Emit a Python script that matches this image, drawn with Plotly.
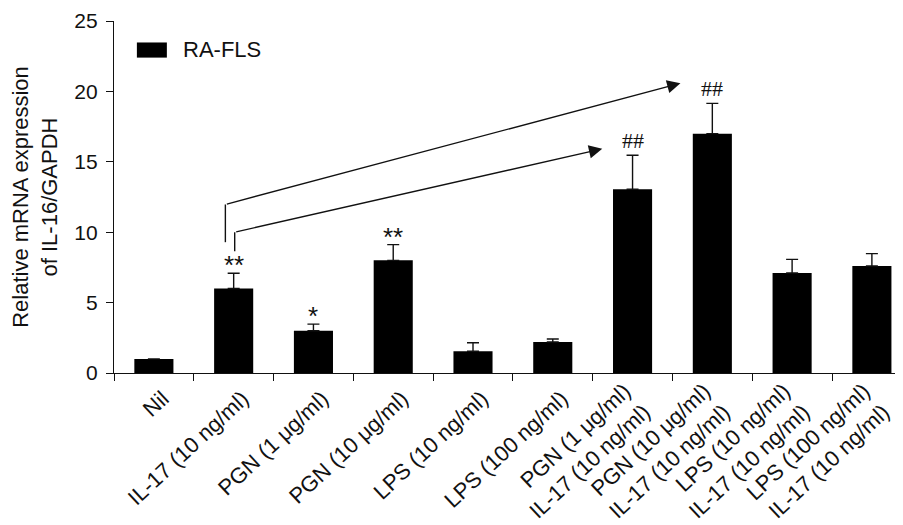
import plotly.graph_objects as go

# ---- data ----
categories = [
    "Nil",
    "IL-17 (10 ng/ml)",
    "PGN (1 μg/ml)",
    "PGN (10 μg/ml)",
    "LPS (10 ng/ml)",
    "LPS (100 ng/ml)",
    "PGN (1 μg/ml)<br>IL-17 (10 ng/ml)",
    "PGN (10 μg/ml)<br>IL-17 (10 ng/ml)",
    "LPS (10 ng/ml)<br>IL-17 (10 ng/ml)",
    "LPS (100 ng/ml)<br>IL-17 (10 ng/ml)",
]
means = [1.0, 6.0, 3.0, 8.0, 1.55, 2.2, 13.05, 17.0, 7.1, 7.6]
errors = [0.0, 1.08, 0.47, 1.12, 0.6, 0.22, 2.42, 2.15, 0.97, 0.88]
significance = ["", "**", "*", "**", "", "", "##", "##", "", ""]
series_name = "RA-FLS"
y_ticks = [0, 5, 10, 15, 20, 25]

FONT = "Liberation Sans, Arial, sans-serif"
SERIF = "Liberation Serif, Times New Roman, serif"
INK = "#111111"
X_RANGE = [-0.5, 9.39]

fig = go.Figure()
fig.add_trace(go.Bar(
    x=categories,
    y=means,
    name=series_name,
    width=0.49,
    marker=dict(color="#000000", line=dict(width=0)),
    error_y=dict(type="data", array=errors, arrayminus=[0] * len(errors),
                 symmetric=False, color=INK, thickness=1.4, width=6),
    showlegend=False,
))

annotations = []
# significance marks above the error bars
mark_style = {
    "*": dict(font=FONT, size=26, shift=-9),
    "**": dict(font=FONT, size=26, shift=-9),
    "##": dict(font=SERIF, size=22, shift=0),
}
for cat, m, e, s in zip(categories, means, errors, significance):
    if s:
        st = mark_style[s]
        annotations.append(dict(
            x=cat, y=m + e, xref="x", yref="y", text=s, showarrow=False,
            yanchor="bottom", yshift=st["shift"],
            font=dict(family=st["font"], size=st["size"], color=INK),
        ))

# comparison brackets with arrows (IL-17 -> combined treatments)
brackets = [
    # (x start, y bottom, y corner, x tip, y tip)
    (0.896, 9.29, 11.97, 6.60, 20.58),
    (1.013, 8.65, 10.0, 5.62, 15.92),
]
shapes = []
for xs, yb, yc, xt, yt in brackets:
    shapes.append(dict(type="line", xref="x", yref="y", x0=xs, x1=xs, y0=yb, y1=yc,
                       line=dict(color=INK, width=1.4)))
    annotations.append(dict(
        x=xt, y=yt, ax=xs, ay=yc, xref="x", yref="y", axref="x", ayref="y",
        text="", showarrow=True, arrowhead=2, arrowsize=1.9, arrowwidth=1.4,
        arrowcolor=INK, standoff=0,
    ))

# manual legend
shapes.append(dict(type="rect", xref="paper", yref="paper",
                   x0=0.029, x1=0.067, y0=0.896, y1=0.939,
                   fillcolor="#000000", line=dict(width=0)))
annotations.append(dict(x=0.0855, y=0.918, xref="paper", yref="paper",
                        text=series_name, showarrow=False, xanchor="left",
                        yanchor="middle", font=dict(family=FONT, size=22, color=INK)))

# single-line labels on the main axis, two-line labels on an overlay axis
single_text = [c if "<br>" not in c else "" for c in categories]
multi_idx = [i for i, c in enumerate(categories) if "<br>" in c]
multi_text = [categories[i] for i in multi_idx]

tick_font = dict(family=FONT, size=22, color=INK)

# page body adds an 8px margin, so the figure is sized to fit inside the window
fig.update_layout(
    width=895, height=517,
    margin=dict(l=106, r=0, t=13, b=152, autoexpand=False),
    paper_bgcolor="white", plot_bgcolor="white",
    font=dict(family=FONT, color=INK),
    bargap=0.5,
    shapes=shapes,
    annotations=annotations,
    xaxis=dict(
        type="category",
        range=X_RANGE,
        automargin=False,
        tickson="boundaries",
        tickvals=categories, ticktext=single_text,
        ticks="outside", ticklen=7, tickwidth=1.3, tickcolor=INK,
        showline=True, linecolor=INK, linewidth=1.3,
        showgrid=False, zeroline=False,
        tickangle=-43,
        ticklabelshift=9,
        ticklabelstandoff=3,
        tickfont=tick_font,
    ),
    xaxis2=dict(
        overlaying="x", anchor="y", side="bottom",
        range=X_RANGE,
        automargin=False,
        tickvals=multi_idx, ticktext=multi_text,
        ticks="", showline=False, showgrid=False, zeroline=False,
        tickangle=-43,
        ticklabelshift=-8,
        ticklabelstandoff=0,
        tickfont=tick_font,
    ),
    yaxis=dict(
        range=[0, 25],
        automargin=False,
        tickvals=y_ticks,
        ticks="outside", ticklen=7, tickwidth=1.3, tickcolor=INK,
        showline=True, linecolor=INK, linewidth=1.3,
        showgrid=False, zeroline=False,
        ticklabelstandoff=4,
        tickfont=dict(family=FONT, size=21, color=INK),
        title=dict(text="Relative mRNA expression<br>of IL-16/GAPDH",
                   font=dict(family=FONT, size=22, color=INK), standoff=11),
    ),
)
# invisible helper so the overlay axis is drawn
fig.add_trace(go.Scatter(x=multi_idx, y=[0] * len(multi_idx), xaxis="x2", yaxis="y",
                         mode="markers", marker=dict(opacity=0), hoverinfo="skip",
                         showlegend=False))

fig.write_html("out.html")
